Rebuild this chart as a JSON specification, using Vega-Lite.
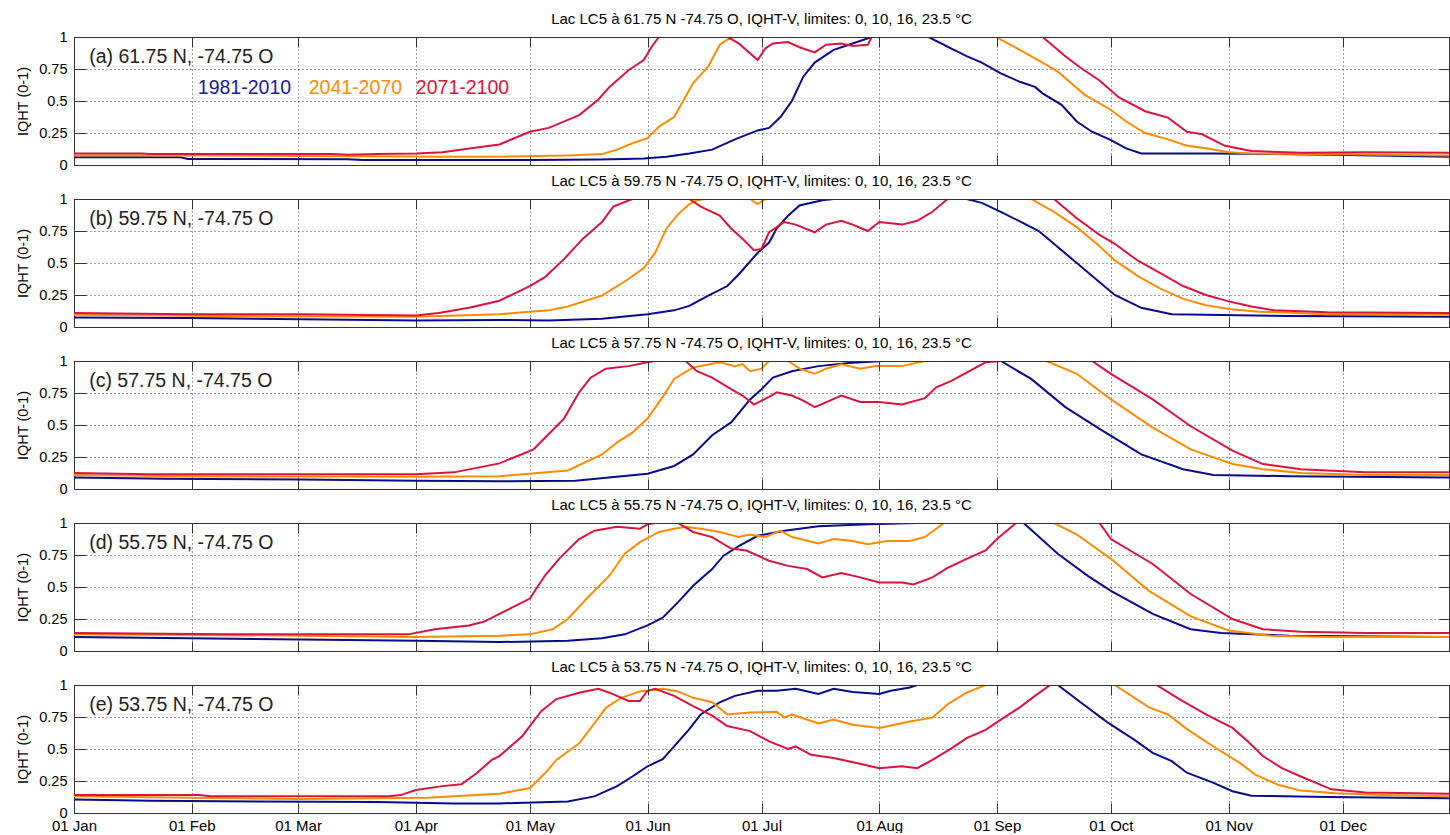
{
"$schema":"https://vega.github.io/schema/vega-lite/v6.json",
"background":"white",
"padding":{"left":15,"top":12,"right":0,"bottom":0},
"bounds":"flush",
"spacing":34,
"config":{"font":"Liberation Sans","view":{"stroke":null},
"axis":{"labelFont":"Liberation Sans","labelFontSize":14.5,"labelColor":"#000","titleFont":"Liberation Sans","titleFontSize":14.5,"titleFontWeight":"normal","titleColor":"#000","domainColor":"#333","tickColor":"#333","gridColor":"#000","gridDash":[1,3],"gridOpacity":0.75}},
"data":{"values":[
{"p":"a","s":1,"d":0,"v":0.06},{"p":"a","s":1,"d":28,"v":0.06},{"p":"a","s":1,"d":30,"v":0.047},{"p":"a","s":1,"d":72,"v":0.045},{"p":"a","s":1,"d":76,"v":0.04},{"p":"a","s":1,"d":120,"v":0.04},{"p":"a","s":1,"d":138,"v":0.042},{"p":"a","s":1,"d":145,"v":0.047},{"p":"a","s":1,"d":150,"v":0.05},{"p":"a","s":1,"d":156,"v":0.065},{"p":"a","s":1,"d":162,"v":0.09},{"p":"a","s":1,"d":168,"v":0.12},{"p":"a","s":1,"d":174,"v":0.2},{"p":"a","s":1,"d":180,"v":0.27},{"p":"a","s":1,"d":183,"v":0.29},{"p":"a","s":1,"d":186,"v":0.375},{"p":"a","s":1,"d":189,"v":0.5},{"p":"a","s":1,"d":192,"v":0.69},{"p":"a","s":1,"d":195,"v":0.8},{"p":"a","s":1,"d":200,"v":0.9},{"p":"a","s":1,"d":204,"v":0.94},{"p":"a","s":1,"d":210,"v":1},{"p":"a","s":1,"d":225,"v":1},{"p":"a","s":1,"d":231,"v":0.91},{"p":"a","s":1,"d":235,"v":0.85},{"p":"a","s":1,"d":239,"v":0.8},{"p":"a","s":1,"d":244,"v":0.716},{"p":"a","s":1,"d":249,"v":0.65},{"p":"a","s":1,"d":253,"v":0.61},{"p":"a","s":1,"d":255,"v":0.56},{"p":"a","s":1,"d":260,"v":0.47},{"p":"a","s":1,"d":264,"v":0.34},{"p":"a","s":1,"d":268,"v":0.26},{"p":"a","s":1,"d":273,"v":0.195},{"p":"a","s":1,"d":277,"v":0.13},{"p":"a","s":1,"d":281,"v":0.09},{"p":"a","s":1,"d":300,"v":0.09},{"p":"a","s":1,"d":331,"v":0.08},{"p":"a","s":1,"d":362,"v":0.065},
{"p":"a","s":2,"d":0,"v":0.075},{"p":"a","s":2,"d":30,"v":0.075},{"p":"a","s":2,"d":60,"v":0.07},{"p":"a","s":2,"d":100,"v":0.065},{"p":"a","s":2,"d":112,"v":0.065},{"p":"a","s":2,"d":130,"v":0.075},{"p":"a","s":2,"d":139,"v":0.085},{"p":"a","s":2,"d":143,"v":0.12},{"p":"a","s":2,"d":147,"v":0.17},{"p":"a","s":2,"d":151,"v":0.21},{"p":"a","s":2,"d":154,"v":0.3},{"p":"a","s":2,"d":158,"v":0.375},{"p":"a","s":2,"d":160,"v":0.48},{"p":"a","s":2,"d":163,"v":0.64},{"p":"a","s":2,"d":167,"v":0.77},{"p":"a","s":2,"d":170,"v":0.94},{"p":"a","s":2,"d":172,"v":0.98},{"p":"a","s":2,"d":174,"v":1},{"p":"a","s":2,"d":243,"v":1},{"p":"a","s":2,"d":244,"v":0.98},{"p":"a","s":2,"d":249,"v":0.9},{"p":"a","s":2,"d":255,"v":0.8},{"p":"a","s":2,"d":259,"v":0.73},{"p":"a","s":2,"d":266,"v":0.55},{"p":"a","s":2,"d":273,"v":0.43},{"p":"a","s":2,"d":277,"v":0.34},{"p":"a","s":2,"d":282,"v":0.25},{"p":"a","s":2,"d":288,"v":0.2},{"p":"a","s":2,"d":293,"v":0.15},{"p":"a","s":2,"d":298,"v":0.13},{"p":"a","s":2,"d":304,"v":0.1},{"p":"a","s":2,"d":310,"v":0.09},{"p":"a","s":2,"d":330,"v":0.085},{"p":"a","s":2,"d":362,"v":0.075},
{"p":"a","s":3,"d":0,"v":0.09},{"p":"a","s":3,"d":18,"v":0.09},{"p":"a","s":3,"d":20,"v":0.085},{"p":"a","s":3,"d":68,"v":0.085},{"p":"a","s":3,"d":72,"v":0.08},{"p":"a","s":3,"d":80,"v":0.085},{"p":"a","s":3,"d":90,"v":0.09},{"p":"a","s":3,"d":97,"v":0.1},{"p":"a","s":3,"d":107,"v":0.14},{"p":"a","s":3,"d":112,"v":0.16},{"p":"a","s":3,"d":120,"v":0.26},{"p":"a","s":3,"d":125,"v":0.29},{"p":"a","s":3,"d":133,"v":0.39},{"p":"a","s":3,"d":138,"v":0.51},{"p":"a","s":3,"d":141,"v":0.61},{"p":"a","s":3,"d":146,"v":0.74},{"p":"a","s":3,"d":150,"v":0.82},{"p":"a","s":3,"d":152,"v":0.92},{"p":"a","s":3,"d":154,"v":1},{"p":"a","s":3,"d":172,"v":1},{"p":"a","s":3,"d":175,"v":0.95},{"p":"a","s":3,"d":180,"v":0.82},{"p":"a","s":3,"d":182,"v":0.91},{"p":"a","s":3,"d":184,"v":0.95},{"p":"a","s":3,"d":188,"v":0.96},{"p":"a","s":3,"d":191,"v":0.92},{"p":"a","s":3,"d":195,"v":0.88},{"p":"a","s":3,"d":198,"v":0.94},{"p":"a","s":3,"d":202,"v":0.95},{"p":"a","s":3,"d":205,"v":0.93},{"p":"a","s":3,"d":209,"v":0.94},{"p":"a","s":3,"d":210,"v":1},{"p":"a","s":3,"d":255,"v":1},{"p":"a","s":3,"d":261,"v":0.85},{"p":"a","s":3,"d":265,"v":0.76},{"p":"a","s":3,"d":270,"v":0.66},{"p":"a","s":3,"d":275,"v":0.53},{"p":"a","s":3,"d":282,"v":0.42},{"p":"a","s":3,"d":288,"v":0.37},{"p":"a","s":3,"d":293,"v":0.26},{"p":"a","s":3,"d":297,"v":0.24},{"p":"a","s":3,"d":303,"v":0.15},{"p":"a","s":3,"d":310,"v":0.11},{"p":"a","s":3,"d":323,"v":0.095},{"p":"a","s":3,"d":340,"v":0.1},{"p":"a","s":3,"d":362,"v":0.095},
{"p":"b","s":1,"d":0,"v":0.075},{"p":"b","s":1,"d":30,"v":0.07},{"p":"b","s":1,"d":60,"v":0.06},{"p":"b","s":1,"d":90,"v":0.05},{"p":"b","s":1,"d":112,"v":0.055},{"p":"b","s":1,"d":125,"v":0.05},{"p":"b","s":1,"d":139,"v":0.065},{"p":"b","s":1,"d":151,"v":0.1},{"p":"b","s":1,"d":158,"v":0.13},{"p":"b","s":1,"d":162,"v":0.165},{"p":"b","s":1,"d":167,"v":0.245},{"p":"b","s":1,"d":172,"v":0.32},{"p":"b","s":1,"d":175,"v":0.41},{"p":"b","s":1,"d":180,"v":0.58},{"p":"b","s":1,"d":183,"v":0.66},{"p":"b","s":1,"d":185,"v":0.77},{"p":"b","s":1,"d":188,"v":0.87},{"p":"b","s":1,"d":191,"v":0.95},{"p":"b","s":1,"d":197,"v":0.99},{"p":"b","s":1,"d":200,"v":1},{"p":"b","s":1,"d":235,"v":1},{"p":"b","s":1,"d":239,"v":0.97},{"p":"b","s":1,"d":244,"v":0.9},{"p":"b","s":1,"d":254,"v":0.75},{"p":"b","s":1,"d":264,"v":0.5},{"p":"b","s":1,"d":274,"v":0.25},{"p":"b","s":1,"d":281,"v":0.15},{"p":"b","s":1,"d":289,"v":0.1},{"p":"b","s":1,"d":320,"v":0.085},{"p":"b","s":1,"d":362,"v":0.08},
{"p":"b","s":2,"d":0,"v":0.095},{"p":"b","s":2,"d":40,"v":0.085},{"p":"b","s":2,"d":90,"v":0.08},{"p":"b","s":2,"d":112,"v":0.1},{"p":"b","s":2,"d":125,"v":0.13},{"p":"b","s":2,"d":130,"v":0.16},{"p":"b","s":2,"d":139,"v":0.245},{"p":"b","s":2,"d":146,"v":0.375},{"p":"b","s":2,"d":150,"v":0.46},{"p":"b","s":2,"d":153,"v":0.58},{"p":"b","s":2,"d":156,"v":0.77},{"p":"b","s":2,"d":159,"v":0.88},{"p":"b","s":2,"d":162,"v":0.96},{"p":"b","s":2,"d":164,"v":0.99},{"p":"b","s":2,"d":166,"v":1},{"p":"b","s":2,"d":178,"v":1},{"p":"b","s":2,"d":180,"v":0.96},{"p":"b","s":2,"d":182,"v":1},{"p":"b","s":2,"d":252,"v":1},{"p":"b","s":2,"d":258,"v":0.9},{"p":"b","s":2,"d":264,"v":0.78},{"p":"b","s":2,"d":270,"v":0.63},{"p":"b","s":2,"d":274,"v":0.52},{"p":"b","s":2,"d":280,"v":0.4},{"p":"b","s":2,"d":286,"v":0.3},{"p":"b","s":2,"d":292,"v":0.22},{"p":"b","s":2,"d":298,"v":0.17},{"p":"b","s":2,"d":304,"v":0.14},{"p":"b","s":2,"d":312,"v":0.12},{"p":"b","s":2,"d":330,"v":0.1},{"p":"b","s":2,"d":362,"v":0.1},
{"p":"b","s":3,"d":0,"v":0.11},{"p":"b","s":3,"d":30,"v":0.1},{"p":"b","s":3,"d":60,"v":0.1},{"p":"b","s":3,"d":90,"v":0.09},{"p":"b","s":3,"d":96,"v":0.11},{"p":"b","s":3,"d":104,"v":0.15},{"p":"b","s":3,"d":112,"v":0.205},{"p":"b","s":3,"d":120,"v":0.32},{"p":"b","s":3,"d":124,"v":0.39},{"p":"b","s":3,"d":129,"v":0.53},{"p":"b","s":3,"d":134,"v":0.69},{"p":"b","s":3,"d":139,"v":0.82},{"p":"b","s":3,"d":142,"v":0.94},{"p":"b","s":3,"d":147,"v":1},{"p":"b","s":3,"d":162,"v":1},{"p":"b","s":3,"d":165,"v":0.94},{"p":"b","s":3,"d":170,"v":0.87},{"p":"b","s":3,"d":173,"v":0.77},{"p":"b","s":3,"d":176,"v":0.69},{"p":"b","s":3,"d":179,"v":0.6},{"p":"b","s":3,"d":181,"v":0.61},{"p":"b","s":3,"d":183,"v":0.74},{"p":"b","s":3,"d":185,"v":0.78},{"p":"b","s":3,"d":187,"v":0.82},{"p":"b","s":3,"d":190,"v":0.8},{"p":"b","s":3,"d":195,"v":0.74},{"p":"b","s":3,"d":198,"v":0.8},{"p":"b","s":3,"d":202,"v":0.83},{"p":"b","s":3,"d":205,"v":0.8},{"p":"b","s":3,"d":209,"v":0.75},{"p":"b","s":3,"d":212,"v":0.82},{"p":"b","s":3,"d":218,"v":0.8},{"p":"b","s":3,"d":222,"v":0.83},{"p":"b","s":3,"d":226,"v":0.9},{"p":"b","s":3,"d":230,"v":1},{"p":"b","s":3,"d":258,"v":1},{"p":"b","s":3,"d":264,"v":0.85},{"p":"b","s":3,"d":270,"v":0.72},{"p":"b","s":3,"d":274,"v":0.65},{"p":"b","s":3,"d":280,"v":0.52},{"p":"b","s":3,"d":286,"v":0.42},{"p":"b","s":3,"d":292,"v":0.32},{"p":"b","s":3,"d":298,"v":0.25},{"p":"b","s":3,"d":304,"v":0.2},{"p":"b","s":3,"d":310,"v":0.16},{"p":"b","s":3,"d":316,"v":0.13},{"p":"b","s":3,"d":330,"v":0.115},{"p":"b","s":3,"d":362,"v":0.11},
{"p":"c","s":1,"d":0,"v":0.09},{"p":"c","s":1,"d":24,"v":0.08},{"p":"c","s":1,"d":60,"v":0.075},{"p":"c","s":1,"d":90,"v":0.065},{"p":"c","s":1,"d":112,"v":0.06},{"p":"c","s":1,"d":132,"v":0.065},{"p":"c","s":1,"d":151,"v":0.12},{"p":"c","s":1,"d":158,"v":0.18},{"p":"c","s":1,"d":163,"v":0.27},{"p":"c","s":1,"d":168,"v":0.42},{"p":"c","s":1,"d":173,"v":0.52},{"p":"c","s":1,"d":178,"v":0.7},{"p":"c","s":1,"d":181,"v":0.78},{"p":"c","s":1,"d":184,"v":0.87},{"p":"c","s":1,"d":189,"v":0.92},{"p":"c","s":1,"d":196,"v":0.96},{"p":"c","s":1,"d":204,"v":0.985},{"p":"c","s":1,"d":213,"v":1},{"p":"c","s":1,"d":244,"v":1},{"p":"c","s":1,"d":252,"v":0.86},{"p":"c","s":1,"d":261,"v":0.64},{"p":"c","s":1,"d":270,"v":0.47},{"p":"c","s":1,"d":281,"v":0.27},{"p":"c","s":1,"d":292,"v":0.155},{"p":"c","s":1,"d":300,"v":0.11},{"p":"c","s":1,"d":320,"v":0.1},{"p":"c","s":1,"d":362,"v":0.09},
{"p":"c","s":2,"d":0,"v":0.11},{"p":"c","s":2,"d":30,"v":0.1},{"p":"c","s":2,"d":90,"v":0.095},{"p":"c","s":2,"d":112,"v":0.1},{"p":"c","s":2,"d":130,"v":0.145},{"p":"c","s":2,"d":139,"v":0.27},{"p":"c","s":2,"d":143,"v":0.365},{"p":"c","s":2,"d":147,"v":0.44},{"p":"c","s":2,"d":151,"v":0.55},{"p":"c","s":2,"d":155,"v":0.72},{"p":"c","s":2,"d":158,"v":0.86},{"p":"c","s":2,"d":163,"v":0.95},{"p":"c","s":2,"d":170,"v":0.99},{"p":"c","s":2,"d":174,"v":0.96},{"p":"c","s":2,"d":176,"v":0.975},{"p":"c","s":2,"d":178,"v":0.92},{"p":"c","s":2,"d":181,"v":0.94},{"p":"c","s":2,"d":183,"v":1},{"p":"c","s":2,"d":188,"v":1},{"p":"c","s":2,"d":191,"v":0.94},{"p":"c","s":2,"d":195,"v":0.9},{"p":"c","s":2,"d":198,"v":0.94},{"p":"c","s":2,"d":202,"v":0.975},{"p":"c","s":2,"d":207,"v":0.94},{"p":"c","s":2,"d":211,"v":0.96},{"p":"c","s":2,"d":218,"v":0.96},{"p":"c","s":2,"d":224,"v":1},{"p":"c","s":2,"d":256,"v":1},{"p":"c","s":2,"d":264,"v":0.9},{"p":"c","s":2,"d":273,"v":0.7},{"p":"c","s":2,"d":284,"v":0.48},{"p":"c","s":2,"d":294,"v":0.31},{"p":"c","s":2,"d":305,"v":0.195},{"p":"c","s":2,"d":313,"v":0.155},{"p":"c","s":2,"d":323,"v":0.125},{"p":"c","s":2,"d":340,"v":0.11},{"p":"c","s":2,"d":362,"v":0.11},
{"p":"c","s":3,"d":0,"v":0.125},{"p":"c","s":3,"d":20,"v":0.115},{"p":"c","s":3,"d":90,"v":0.115},{"p":"c","s":3,"d":100,"v":0.13},{"p":"c","s":3,"d":112,"v":0.2},{"p":"c","s":3,"d":121,"v":0.31},{"p":"c","s":3,"d":129,"v":0.55},{"p":"c","s":3,"d":133,"v":0.755},{"p":"c","s":3,"d":136,"v":0.87},{"p":"c","s":3,"d":140,"v":0.94},{"p":"c","s":3,"d":146,"v":0.96},{"p":"c","s":3,"d":151,"v":0.99},{"p":"c","s":3,"d":153,"v":1},{"p":"c","s":3,"d":161,"v":1},{"p":"c","s":3,"d":164,"v":0.92},{"p":"c","s":3,"d":168,"v":0.87},{"p":"c","s":3,"d":173,"v":0.78},{"p":"c","s":3,"d":176,"v":0.73},{"p":"c","s":3,"d":179,"v":0.66},{"p":"c","s":3,"d":183,"v":0.72},{"p":"c","s":3,"d":185,"v":0.755},{"p":"c","s":3,"d":189,"v":0.73},{"p":"c","s":3,"d":192,"v":0.69},{"p":"c","s":3,"d":195,"v":0.64},{"p":"c","s":3,"d":199,"v":0.69},{"p":"c","s":3,"d":202,"v":0.73},{"p":"c","s":3,"d":207,"v":0.68},{"p":"c","s":3,"d":212,"v":0.68},{"p":"c","s":3,"d":218,"v":0.66},{"p":"c","s":3,"d":224,"v":0.71},{"p":"c","s":3,"d":227,"v":0.795},{"p":"c","s":3,"d":231,"v":0.845},{"p":"c","s":3,"d":235,"v":0.91},{"p":"c","s":3,"d":240,"v":0.99},{"p":"c","s":3,"d":244,"v":1},{"p":"c","s":3,"d":268,"v":1},{"p":"c","s":3,"d":273,"v":0.9},{"p":"c","s":3,"d":284,"v":0.7},{"p":"c","s":3,"d":294,"v":0.49},{"p":"c","s":3,"d":305,"v":0.3},{"p":"c","s":3,"d":313,"v":0.195},{"p":"c","s":3,"d":323,"v":0.155},{"p":"c","s":3,"d":340,"v":0.13},{"p":"c","s":3,"d":362,"v":0.13},
{"p":"d","s":1,"d":0,"v":0.11},{"p":"d","s":1,"d":30,"v":0.1},{"p":"d","s":1,"d":60,"v":0.09},{"p":"d","s":1,"d":90,"v":0.08},{"p":"d","s":1,"d":112,"v":0.07},{"p":"d","s":1,"d":130,"v":0.08},{"p":"d","s":1,"d":139,"v":0.1},{"p":"d","s":1,"d":145,"v":0.13},{"p":"d","s":1,"d":151,"v":0.2},{"p":"d","s":1,"d":155,"v":0.26},{"p":"d","s":1,"d":159,"v":0.38},{"p":"d","s":1,"d":163,"v":0.51},{"p":"d","s":1,"d":168,"v":0.64},{"p":"d","s":1,"d":171,"v":0.745},{"p":"d","s":1,"d":175,"v":0.82},{"p":"d","s":1,"d":180,"v":0.9},{"p":"d","s":1,"d":187,"v":0.94},{"p":"d","s":1,"d":196,"v":0.975},{"p":"d","s":1,"d":209,"v":0.99},{"p":"d","s":1,"d":222,"v":1},{"p":"d","s":1,"d":250,"v":1},{"p":"d","s":1,"d":259,"v":0.76},{"p":"d","s":1,"d":267,"v":0.585},{"p":"d","s":1,"d":273,"v":0.47},{"p":"d","s":1,"d":284,"v":0.29},{"p":"d","s":1,"d":294,"v":0.17},{"p":"d","s":1,"d":302,"v":0.14},{"p":"d","s":1,"d":320,"v":0.12},{"p":"d","s":1,"d":362,"v":0.11},
{"p":"d","s":2,"d":0,"v":0.13},{"p":"d","s":2,"d":60,"v":0.12},{"p":"d","s":2,"d":90,"v":0.11},{"p":"d","s":2,"d":112,"v":0.12},{"p":"d","s":2,"d":120,"v":0.13},{"p":"d","s":2,"d":126,"v":0.17},{"p":"d","s":2,"d":130,"v":0.25},{"p":"d","s":2,"d":135,"v":0.41},{"p":"d","s":2,"d":141,"v":0.59},{"p":"d","s":2,"d":145,"v":0.76},{"p":"d","s":2,"d":149,"v":0.85},{"p":"d","s":2,"d":154,"v":0.93},{"p":"d","s":2,"d":158,"v":0.955},{"p":"d","s":2,"d":161,"v":0.97},{"p":"d","s":2,"d":165,"v":0.955},{"p":"d","s":2,"d":170,"v":0.93},{"p":"d","s":2,"d":175,"v":0.89},{"p":"d","s":2,"d":178,"v":0.91},{"p":"d","s":2,"d":182,"v":0.89},{"p":"d","s":2,"d":186,"v":0.94},{"p":"d","s":2,"d":189,"v":0.89},{"p":"d","s":2,"d":196,"v":0.84},{"p":"d","s":2,"d":200,"v":0.875},{"p":"d","s":2,"d":205,"v":0.86},{"p":"d","s":2,"d":209,"v":0.835},{"p":"d","s":2,"d":214,"v":0.86},{"p":"d","s":2,"d":220,"v":0.86},{"p":"d","s":2,"d":224,"v":0.89},{"p":"d","s":2,"d":227,"v":0.955},{"p":"d","s":2,"d":229,"v":1},{"p":"d","s":2,"d":258,"v":1},{"p":"d","s":2,"d":264,"v":0.91},{"p":"d","s":2,"d":273,"v":0.72},{"p":"d","s":2,"d":283,"v":0.47},{"p":"d","s":2,"d":294,"v":0.27},{"p":"d","s":2,"d":304,"v":0.16},{"p":"d","s":2,"d":315,"v":0.12},{"p":"d","s":2,"d":330,"v":0.11},{"p":"d","s":2,"d":362,"v":0.11},
{"p":"d","s":3,"d":0,"v":0.14},{"p":"d","s":3,"d":40,"v":0.13},{"p":"d","s":3,"d":88,"v":0.13},{"p":"d","s":3,"d":95,"v":0.17},{"p":"d","s":3,"d":104,"v":0.2},{"p":"d","s":3,"d":108,"v":0.23},{"p":"d","s":3,"d":112,"v":0.29},{"p":"d","s":3,"d":120,"v":0.41},{"p":"d","s":3,"d":124,"v":0.59},{"p":"d","s":3,"d":128,"v":0.73},{"p":"d","s":3,"d":133,"v":0.875},{"p":"d","s":3,"d":137,"v":0.94},{"p":"d","s":3,"d":143,"v":0.97},{"p":"d","s":3,"d":149,"v":0.955},{"p":"d","s":3,"d":151,"v":0.99},{"p":"d","s":3,"d":153,"v":1},{"p":"d","s":3,"d":159,"v":1},{"p":"d","s":3,"d":163,"v":0.93},{"p":"d","s":3,"d":168,"v":0.89},{"p":"d","s":3,"d":173,"v":0.8},{"p":"d","s":3,"d":177,"v":0.785},{"p":"d","s":3,"d":183,"v":0.705},{"p":"d","s":3,"d":188,"v":0.665},{"p":"d","s":3,"d":193,"v":0.64},{"p":"d","s":3,"d":197,"v":0.575},{"p":"d","s":3,"d":202,"v":0.61},{"p":"d","s":3,"d":207,"v":0.575},{"p":"d","s":3,"d":212,"v":0.535},{"p":"d","s":3,"d":218,"v":0.535},{"p":"d","s":3,"d":221,"v":0.52},{"p":"d","s":3,"d":226,"v":0.575},{"p":"d","s":3,"d":230,"v":0.65},{"p":"d","s":3,"d":235,"v":0.72},{"p":"d","s":3,"d":240,"v":0.785},{"p":"d","s":3,"d":243,"v":0.875},{"p":"d","s":3,"d":248,"v":1},{"p":"d","s":3,"d":270,"v":1},{"p":"d","s":3,"d":273,"v":0.875},{"p":"d","s":3,"d":284,"v":0.68},{"p":"d","s":3,"d":294,"v":0.445},{"p":"d","s":3,"d":305,"v":0.25},{"p":"d","s":3,"d":313,"v":0.17},{"p":"d","s":3,"d":323,"v":0.15},{"p":"d","s":3,"d":340,"v":0.14},{"p":"d","s":3,"d":362,"v":0.14},
{"p":"e","s":1,"d":0,"v":0.105},{"p":"e","s":1,"d":20,"v":0.095},{"p":"e","s":1,"d":80,"v":0.085},{"p":"e","s":1,"d":100,"v":0.075},{"p":"e","s":1,"d":112,"v":0.075},{"p":"e","s":1,"d":130,"v":0.09},{"p":"e","s":1,"d":137,"v":0.13},{"p":"e","s":1,"d":143,"v":0.21},{"p":"e","s":1,"d":147,"v":0.285},{"p":"e","s":1,"d":151,"v":0.365},{"p":"e","s":1,"d":155,"v":0.42},{"p":"e","s":1,"d":158,"v":0.52},{"p":"e","s":1,"d":162,"v":0.655},{"p":"e","s":1,"d":165,"v":0.77},{"p":"e","s":1,"d":170,"v":0.865},{"p":"e","s":1,"d":174,"v":0.915},{"p":"e","s":1,"d":180,"v":0.955},{"p":"e","s":1,"d":185,"v":0.955},{"p":"e","s":1,"d":190,"v":0.97},{"p":"e","s":1,"d":196,"v":0.93},{"p":"e","s":1,"d":200,"v":0.97},{"p":"e","s":1,"d":205,"v":0.945},{"p":"e","s":1,"d":212,"v":0.93},{"p":"e","s":1,"d":215,"v":0.955},{"p":"e","s":1,"d":220,"v":0.98},{"p":"e","s":1,"d":222,"v":1},{"p":"e","s":1,"d":259,"v":1},{"p":"e","s":1,"d":265,"v":0.865},{"p":"e","s":1,"d":272,"v":0.71},{"p":"e","s":1,"d":279,"v":0.575},{"p":"e","s":1,"d":284,"v":0.47},{"p":"e","s":1,"d":289,"v":0.405},{"p":"e","s":1,"d":293,"v":0.315},{"p":"e","s":1,"d":300,"v":0.235},{"p":"e","s":1,"d":305,"v":0.17},{"p":"e","s":1,"d":310,"v":0.135},{"p":"e","s":1,"d":330,"v":0.125},{"p":"e","s":1,"d":362,"v":0.115},
{"p":"e","s":2,"d":0,"v":0.13},{"p":"e","s":2,"d":30,"v":0.12},{"p":"e","s":2,"d":60,"v":0.11},{"p":"e","s":2,"d":93,"v":0.12},{"p":"e","s":2,"d":112,"v":0.15},{"p":"e","s":2,"d":120,"v":0.195},{"p":"e","s":2,"d":124,"v":0.31},{"p":"e","s":2,"d":127,"v":0.415},{"p":"e","s":2,"d":133,"v":0.545},{"p":"e","s":2,"d":137,"v":0.7},{"p":"e","s":2,"d":140,"v":0.82},{"p":"e","s":2,"d":144,"v":0.9},{"p":"e","s":2,"d":149,"v":0.95},{"p":"e","s":2,"d":155,"v":0.97},{"p":"e","s":2,"d":159,"v":0.95},{"p":"e","s":2,"d":163,"v":0.9},{"p":"e","s":2,"d":168,"v":0.865},{"p":"e","s":2,"d":172,"v":0.77},{"p":"e","s":2,"d":178,"v":0.785},{"p":"e","s":2,"d":185,"v":0.79},{"p":"e","s":2,"d":187,"v":0.745},{"p":"e","s":2,"d":189,"v":0.77},{"p":"e","s":2,"d":196,"v":0.7},{"p":"e","s":2,"d":200,"v":0.73},{"p":"e","s":2,"d":205,"v":0.69},{"p":"e","s":2,"d":212,"v":0.665},{"p":"e","s":2,"d":216,"v":0.69},{"p":"e","s":2,"d":220,"v":0.715},{"p":"e","s":2,"d":226,"v":0.745},{"p":"e","s":2,"d":230,"v":0.85},{"p":"e","s":2,"d":235,"v":0.94},{"p":"e","s":2,"d":240,"v":1},{"p":"e","s":2,"d":274,"v":1},{"p":"e","s":2,"d":283,"v":0.825},{"p":"e","s":2,"d":288,"v":0.77},{"p":"e","s":2,"d":293,"v":0.655},{"p":"e","s":2,"d":301,"v":0.5},{"p":"e","s":2,"d":307,"v":0.39},{"p":"e","s":2,"d":311,"v":0.3},{"p":"e","s":2,"d":317,"v":0.22},{"p":"e","s":2,"d":323,"v":0.175},{"p":"e","s":2,"d":332,"v":0.155},{"p":"e","s":2,"d":345,"v":0.14},{"p":"e","s":2,"d":362,"v":0.13},
{"p":"e","s":3,"d":0,"v":0.14},{"p":"e","s":3,"d":33,"v":0.14},{"p":"e","s":3,"d":36,"v":0.13},{"p":"e","s":3,"d":83,"v":0.13},{"p":"e","s":3,"d":86,"v":0.14},{"p":"e","s":3,"d":90,"v":0.18},{"p":"e","s":3,"d":97,"v":0.21},{"p":"e","s":3,"d":102,"v":0.225},{"p":"e","s":3,"d":106,"v":0.31},{"p":"e","s":3,"d":110,"v":0.415},{"p":"e","s":3,"d":112,"v":0.445},{"p":"e","s":3,"d":118,"v":0.6},{"p":"e","s":3,"d":123,"v":0.795},{"p":"e","s":3,"d":127,"v":0.89},{"p":"e","s":3,"d":133,"v":0.94},{"p":"e","s":3,"d":138,"v":0.97},{"p":"e","s":3,"d":141,"v":0.94},{"p":"e","s":3,"d":146,"v":0.875},{"p":"e","s":3,"d":149,"v":0.875},{"p":"e","s":3,"d":151,"v":0.955},{"p":"e","s":3,"d":153,"v":0.97},{"p":"e","s":3,"d":158,"v":0.915},{"p":"e","s":3,"d":163,"v":0.835},{"p":"e","s":3,"d":168,"v":0.76},{"p":"e","s":3,"d":172,"v":0.68},{"p":"e","s":3,"d":178,"v":0.64},{"p":"e","s":3,"d":183,"v":0.56},{"p":"e","s":3,"d":188,"v":0.5},{"p":"e","s":3,"d":190,"v":0.52},{"p":"e","s":3,"d":194,"v":0.455},{"p":"e","s":3,"d":200,"v":0.43},{"p":"e","s":3,"d":206,"v":0.39},{"p":"e","s":3,"d":212,"v":0.35},{"p":"e","s":3,"d":218,"v":0.365},{"p":"e","s":3,"d":222,"v":0.35},{"p":"e","s":3,"d":226,"v":0.415},{"p":"e","s":3,"d":231,"v":0.505},{"p":"e","s":3,"d":235,"v":0.585},{"p":"e","s":3,"d":240,"v":0.65},{"p":"e","s":3,"d":244,"v":0.73},{"p":"e","s":3,"d":249,"v":0.825},{"p":"e","s":3,"d":253,"v":0.915},{"p":"e","s":3,"d":257,"v":1},{"p":"e","s":3,"d":285,"v":1},{"p":"e","s":3,"d":291,"v":0.89},{"p":"e","s":3,"d":298,"v":0.77},{"p":"e","s":3,"d":305,"v":0.665},{"p":"e","s":3,"d":309,"v":0.56},{"p":"e","s":3,"d":313,"v":0.445},{"p":"e","s":3,"d":318,"v":0.35},{"p":"e","s":3,"d":323,"v":0.285},{"p":"e","s":3,"d":327,"v":0.235},{"p":"e","s":3,"d":331,"v":0.185},{"p":"e","s":3,"d":340,"v":0.16},{"p":"e","s":3,"d":362,"v":0.15}
]},
"vconcat":[
{"width":1375,"height":128,
"title":{"text":"Lac LC5 à 61.75 N -74.75 O, IQHT-V, limites: 0, 10, 16, 23.5 °C","frame":"group","anchor":"middle","fontSize":15,"fontWeight":"normal","font":"Liberation Sans","color":"#000","offset":2},
"layer":[
{"transform":[{"filter":"datum.p=='a'"}],"mark":{"type":"line","strokeWidth":2,"clip":true},
"encoding":{"x":{"field":"d","type":"quantitative","scale":{"domain":[0,362],"nice":false,"zero":false},"axis":{"orient":"bottom","values":[0,31,59,90,120,151,181,212,243,273,304,334],"labels":false,"tickSize":-10,"grid":true,"title":null}},
"y":{"field":"v","type":"quantitative","scale":{"domain":[0,1],"nice":false},"axis":{"orient":"left","values":[0,0.25,0.5,0.75,1],"format":".2~f","tickSize":-12,"labelPadding":19,"grid":true,"title":"IQHT (0-1)","titlePadding":8}},
"color":{"field":"s","type":"nominal","scale":{"domain":[1,2,3],"range":["#0a0a8a","#ff8c00","#dc143c"]},"legend":null}}},
{"data":{"values":[{}]},"mark":{"type":"text","align":"left","baseline":"middle","fontSize":19.5,"color":"#222"},
"encoding":{"x":{"datum":4,"type":"quantitative","scale":{"domain":[0,362],"nice":false,"zero":false},"axis":{"orient":"top","values":[0,31,59,90,120,151,181,212,243,273,304,334],"labels":false,"tickSize":-10,"grid":false,"title":null,"zindex":1}},
"y":{"datum":0.845,"type":"quantitative","scale":{"domain":[0,1],"nice":false},"axis":{"orient":"right","values":[0,0.25,0.5,0.75,1],"labels":false,"tickSize":-10,"grid":false,"title":null,"zindex":1}},
"text":{"value":"(a) 61.75 N, -74.75 O"}}},
{"data":{"values":[{}]},"mark":{"type":"text","align":"left","baseline":"middle","fontSize":19.5,"color":"#1a1a9a"},
"encoding":{"x":{"datum":32.6,"type":"quantitative","axis":null},"y":{"datum":0.6,"type":"quantitative","axis":null},"text":{"value":"1981-2010"}}},
{"data":{"values":[{}]},"mark":{"type":"text","align":"left","baseline":"middle","fontSize":19.5,"color":"#ff8c00"},
"encoding":{"x":{"datum":61.8,"type":"quantitative","axis":null},"y":{"datum":0.6,"type":"quantitative","axis":null},"text":{"value":"2041-2070"}}},
{"data":{"values":[{}]},"mark":{"type":"text","align":"left","baseline":"middle","fontSize":19.5,"color":"#dc143c"},
"encoding":{"x":{"datum":90,"type":"quantitative","axis":null},"y":{"datum":0.6,"type":"quantitative","axis":null},"text":{"value":"2071-2100"}}}
],
"resolve":{"axis":{"x":"independent","y":"independent"}}},
{"width":1375,"height":128,
"title":{"text":"Lac LC5 à 59.75 N -74.75 O, IQHT-V, limites: 0, 10, 16, 23.5 °C","frame":"group","anchor":"middle","fontSize":15,"fontWeight":"normal","font":"Liberation Sans","color":"#000","offset":2},
"layer":[
{"transform":[{"filter":"datum.p=='b'"}],"mark":{"type":"line","strokeWidth":2,"clip":true},
"encoding":{"x":{"field":"d","type":"quantitative","scale":{"domain":[0,362],"nice":false,"zero":false},"axis":{"orient":"bottom","values":[0,31,59,90,120,151,181,212,243,273,304,334],"labels":false,"tickSize":-10,"grid":true,"title":null}},
"y":{"field":"v","type":"quantitative","scale":{"domain":[0,1],"nice":false},"axis":{"orient":"left","values":[0,0.25,0.5,0.75,1],"format":".2~f","tickSize":-12,"labelPadding":19,"grid":true,"title":"IQHT (0-1)","titlePadding":8}},
"color":{"field":"s","type":"nominal","scale":{"domain":[1,2,3],"range":["#0a0a8a","#ff8c00","#dc143c"]},"legend":null}}},
{"data":{"values":[{}]},"mark":{"type":"text","align":"left","baseline":"middle","fontSize":19.5,"color":"#222"},
"encoding":{"x":{"datum":4,"type":"quantitative","scale":{"domain":[0,362],"nice":false,"zero":false},"axis":{"orient":"top","values":[0,31,59,90,120,151,181,212,243,273,304,334],"labels":false,"tickSize":-10,"grid":false,"title":null,"zindex":1}},
"y":{"datum":0.845,"type":"quantitative","scale":{"domain":[0,1],"nice":false},"axis":{"orient":"right","values":[0,0.25,0.5,0.75,1],"labels":false,"tickSize":-10,"grid":false,"title":null,"zindex":1}},
"text":{"value":"(b) 59.75 N, -74.75 O"}}}
],
"resolve":{"axis":{"x":"independent","y":"independent"}}},
{"width":1375,"height":128,
"title":{"text":"Lac LC5 à 57.75 N -74.75 O, IQHT-V, limites: 0, 10, 16, 23.5 °C","frame":"group","anchor":"middle","fontSize":15,"fontWeight":"normal","font":"Liberation Sans","color":"#000","offset":2},
"layer":[
{"transform":[{"filter":"datum.p=='c'"}],"mark":{"type":"line","strokeWidth":2,"clip":true},
"encoding":{"x":{"field":"d","type":"quantitative","scale":{"domain":[0,362],"nice":false,"zero":false},"axis":{"orient":"bottom","values":[0,31,59,90,120,151,181,212,243,273,304,334],"labels":false,"tickSize":-10,"grid":true,"title":null}},
"y":{"field":"v","type":"quantitative","scale":{"domain":[0,1],"nice":false},"axis":{"orient":"left","values":[0,0.25,0.5,0.75,1],"format":".2~f","tickSize":-12,"labelPadding":19,"grid":true,"title":"IQHT (0-1)","titlePadding":8}},
"color":{"field":"s","type":"nominal","scale":{"domain":[1,2,3],"range":["#0a0a8a","#ff8c00","#dc143c"]},"legend":null}}},
{"data":{"values":[{}]},"mark":{"type":"text","align":"left","baseline":"middle","fontSize":19.5,"color":"#222"},
"encoding":{"x":{"datum":4,"type":"quantitative","scale":{"domain":[0,362],"nice":false,"zero":false},"axis":{"orient":"top","values":[0,31,59,90,120,151,181,212,243,273,304,334],"labels":false,"tickSize":-10,"grid":false,"title":null,"zindex":1}},
"y":{"datum":0.845,"type":"quantitative","scale":{"domain":[0,1],"nice":false},"axis":{"orient":"right","values":[0,0.25,0.5,0.75,1],"labels":false,"tickSize":-10,"grid":false,"title":null,"zindex":1}},
"text":{"value":"(c) 57.75 N, -74.75 O"}}}
],
"resolve":{"axis":{"x":"independent","y":"independent"}}},
{"width":1375,"height":128,
"title":{"text":"Lac LC5 à 55.75 N -74.75 O, IQHT-V, limites: 0, 10, 16, 23.5 °C","frame":"group","anchor":"middle","fontSize":15,"fontWeight":"normal","font":"Liberation Sans","color":"#000","offset":2},
"layer":[
{"transform":[{"filter":"datum.p=='d'"}],"mark":{"type":"line","strokeWidth":2,"clip":true},
"encoding":{"x":{"field":"d","type":"quantitative","scale":{"domain":[0,362],"nice":false,"zero":false},"axis":{"orient":"bottom","values":[0,31,59,90,120,151,181,212,243,273,304,334],"labels":false,"tickSize":-10,"grid":true,"title":null}},
"y":{"field":"v","type":"quantitative","scale":{"domain":[0,1],"nice":false},"axis":{"orient":"left","values":[0,0.25,0.5,0.75,1],"format":".2~f","tickSize":-12,"labelPadding":19,"grid":true,"title":"IQHT (0-1)","titlePadding":8}},
"color":{"field":"s","type":"nominal","scale":{"domain":[1,2,3],"range":["#0a0a8a","#ff8c00","#dc143c"]},"legend":null}}},
{"data":{"values":[{}]},"mark":{"type":"text","align":"left","baseline":"middle","fontSize":19.5,"color":"#222"},
"encoding":{"x":{"datum":4,"type":"quantitative","scale":{"domain":[0,362],"nice":false,"zero":false},"axis":{"orient":"top","values":[0,31,59,90,120,151,181,212,243,273,304,334],"labels":false,"tickSize":-10,"grid":false,"title":null,"zindex":1}},
"y":{"datum":0.845,"type":"quantitative","scale":{"domain":[0,1],"nice":false},"axis":{"orient":"right","values":[0,0.25,0.5,0.75,1],"labels":false,"tickSize":-10,"grid":false,"title":null,"zindex":1}},
"text":{"value":"(d) 55.75 N, -74.75 O"}}}
],
"resolve":{"axis":{"x":"independent","y":"independent"}}},
{"width":1375,"height":128,
"title":{"text":"Lac LC5 à 53.75 N -74.75 O, IQHT-V, limites: 0, 10, 16, 23.5 °C","frame":"group","anchor":"middle","fontSize":15,"fontWeight":"normal","font":"Liberation Sans","color":"#000","offset":2},
"layer":[
{"transform":[{"filter":"datum.p=='e'"}],"mark":{"type":"line","strokeWidth":2,"clip":true},
"encoding":{"x":{"field":"d","type":"quantitative","scale":{"domain":[0,362],"nice":false,"zero":false},"axis":{"orient":"bottom","values":[0,31,59,90,120,151,181,212,243,273,304,334],"labelExpr":"['01 Jan','01 Feb','01 Mar','01 Apr','01 May','01 Jun','01 Jul','01 Aug','01 Sep','01 Oct','01 Nov','01 Dec'][indexof([0,31,59,90,120,151,181,212,243,273,304,334], datum.value)]","labelFlush":false,"labelOverlap":false,"labelFontSize":15,"labelPadding":15,"tickSize":-10,"grid":true,"title":null}},
"y":{"field":"v","type":"quantitative","scale":{"domain":[0,1],"nice":false},"axis":{"orient":"left","values":[0,0.25,0.5,0.75,1],"format":".2~f","tickSize":-12,"labelPadding":19,"grid":true,"title":"IQHT (0-1)","titlePadding":8}},
"color":{"field":"s","type":"nominal","scale":{"domain":[1,2,3],"range":["#0a0a8a","#ff8c00","#dc143c"]},"legend":null}}},
{"data":{"values":[{}]},"mark":{"type":"text","align":"left","baseline":"middle","fontSize":19.5,"color":"#222"},
"encoding":{"x":{"datum":4,"type":"quantitative","scale":{"domain":[0,362],"nice":false,"zero":false},"axis":{"orient":"top","values":[0,31,59,90,120,151,181,212,243,273,304,334],"labels":false,"tickSize":-10,"grid":false,"title":null,"zindex":1}},
"y":{"datum":0.845,"type":"quantitative","scale":{"domain":[0,1],"nice":false},"axis":{"orient":"right","values":[0,0.25,0.5,0.75,1],"labels":false,"tickSize":-10,"grid":false,"title":null,"zindex":1}},
"text":{"value":"(e) 53.75 N, -74.75 O"}}}
],
"resolve":{"axis":{"x":"independent","y":"independent"}}}
]
}
